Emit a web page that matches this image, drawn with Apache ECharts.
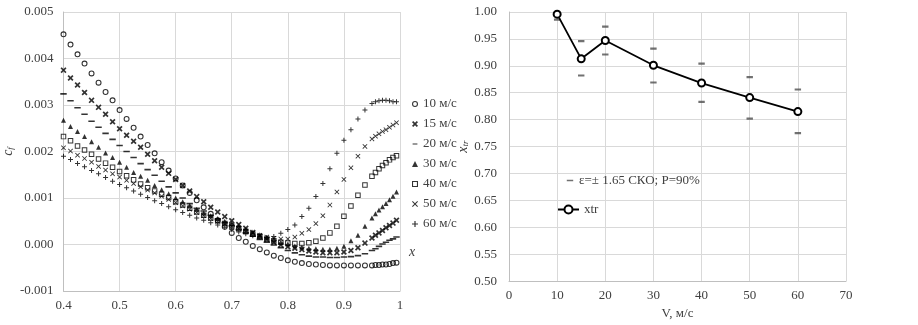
<!DOCTYPE html>
<html>
<head>
<meta charset="utf-8">
<script src="https://cdn.jsdelivr.net/npm/echarts@6/dist/echarts.min.js"></script>
<style>
  html, body { margin: 0; padding: 0; background: #fff; }
  #chart { width: 918px; height: 325px; }
</style>
</head>
<body>
<div id="chart"></div>
<script>
// x positions along the chord (same for every speed)
var xPos = [0.4, 0.4125, 0.425, 0.4375, 0.45, 0.4625, 0.475, 0.4875, 0.5, 0.5125,
  0.525, 0.5375, 0.55, 0.5625, 0.575, 0.5875, 0.6, 0.6125, 0.625, 0.6375,
  0.65, 0.6625, 0.675, 0.6875, 0.7, 0.7125, 0.725, 0.7375, 0.75, 0.7625,
  0.775, 0.7875, 0.8, 0.8125, 0.825, 0.8375, 0.85, 0.8625, 0.875, 0.8875,
  0.9, 0.9125, 0.925, 0.9375, 0.95, 0.95625, 0.9625, 0.96875, 0.975, 0.98125,
  0.9875, 0.99375];

// c_f values for each speed
var cf10 = [0.00452, 0.0043, 0.00409, 0.00389, 0.00368, 0.00348, 0.00328, 0.0031, 0.00289, 0.0027,
  0.00251, 0.00232, 0.00214, 0.00196, 0.00177, 0.00159, 0.00142, 0.00127, 0.00111, 0.00095,
  0.0008, 0.00066, 0.00052, 0.00038, 0.00025, 0.00014, 0.00006, -0.00003, -0.0001, -0.00017,
  -0.00024, -0.00029, -0.00034, -0.00037, -0.0004, -0.00042, -0.00043, -0.00044, -0.00045, -0.00045,
  -0.00045, -0.00045, -0.00045, -0.00045, -0.00045, -0.00044, -0.00044, -0.00043, -0.00043, -0.00042,
  -0.0004, -0.00039];
var cf15 = [0.00375, 0.00358, 0.00343, 0.00327, 0.0031, 0.00295, 0.0028, 0.00264, 0.00249, 0.00235,
  0.00222, 0.00209, 0.00194, 0.0018, 0.00166, 0.00153, 0.0014, 0.00127, 0.00115, 0.00103,
  0.00092, 0.0008, 0.0007, 0.0006, 0.00051, 0.00043, 0.00035, 0.00026, 0.00018, 0.00011,
  0.00005, -0.00001, -0.00005, -0.00008, -0.00011, -0.00014, -0.00016, -0.00018, -0.00018, -0.00018,
  -0.00016, -0.00013, -0.00007, 0.00003, 0.00014, 0.0002, 0.00025, 0.0003, 0.00036, 0.00041,
  0.00046, 0.00052];
var cf20 = [0.00324, 0.00309, 0.00294, 0.0028, 0.00265, 0.00252, 0.00239, 0.00226, 0.00213, 0.002,
  0.00187, 0.00174, 0.00161, 0.00149, 0.00136, 0.00124, 0.00111, 0.001, 0.00088, 0.00078,
  0.00072, 0.00063, 0.00055, 0.00047, 0.0004, 0.00032, 0.00025, 0.00018, 0.00011, 0.00005,
  -0.00001, -0.00007, -0.00013, -0.00018, -0.00022, -0.00025, -0.00027, -0.00027, -0.00028, -0.00028,
  -0.00027, -0.00026, -0.00024, -0.0002, -0.00013, -0.00009, -0.00004, 0.00001, 0.00005, 0.00009,
  0.00012, 0.00016];
var cf30 = [0.00267, 0.00254, 0.00243, 0.00232, 0.00221, 0.00209, 0.00197, 0.00187, 0.00177, 0.00166,
  0.00155, 0.00147, 0.00138, 0.00127, 0.00118, 0.00109, 0.001, 0.00092, 0.00084, 0.00076,
  0.00068, 0.00062, 0.00056, 0.0005, 0.00045, 0.00039, 0.00033, 0.00027, 0.00021, 0.00015,
  0.0001, 0.00005, 0.00001, -0.00003, -0.00006, -0.00008, -0.00009, -0.0001, -0.0001, -0.00008,
  -0.00004, 0.00008, 0.0002, 0.00039, 0.00057, 0.00066, 0.00074, 0.00081, 0.00088, 0.00096,
  0.00104, 0.00113];
var cf40 = [0.00232, 0.00223, 0.00212, 0.00203, 0.00194, 0.00184, 0.00175, 0.00166, 0.00157, 0.00148,
  0.00139, 0.0013, 0.00122, 0.00115, 0.00108, 0.00101, 0.00092, 0.00085, 0.00078, 0.0007,
  0.00063, 0.00057, 0.00051, 0.00045, 0.0004, 0.00034, 0.00028, 0.00022, 0.00017, 0.00012,
  0.00008, 0.00005, 0.00003, 0.00002, 0.00002, 0.00004, 0.00007, 0.00014, 0.00025, 0.00039,
  0.00061, 0.00083, 0.00106, 0.00128, 0.00147, 0.00155, 0.00163, 0.0017, 0.00176, 0.00182,
  0.00187, 0.00191];
var cf50 = [0.00208, 0.00201, 0.00192, 0.00185, 0.00177, 0.00168, 0.0016, 0.00152, 0.00145, 0.00138,
  0.00131, 0.00124, 0.00117, 0.00111, 0.00104, 0.00097, 0.0009, 0.00083, 0.00076, 0.00069,
  0.00062, 0.00056, 0.0005, 0.00044, 0.00039, 0.00034, 0.00029, 0.00024, 0.0002, 0.00016,
  0.00013, 0.00012, 0.00012, 0.00016, 0.00024, 0.00032, 0.00045, 0.00062, 0.00085, 0.00113,
  0.0014, 0.00165, 0.0019, 0.00211, 0.00227, 0.00233, 0.00238, 0.00243, 0.00247, 0.00252,
  0.00257, 0.00262];
var cf60 = [0.0019, 0.00183, 0.00174, 0.00167, 0.00159, 0.00152, 0.00144, 0.00136, 0.00129, 0.00122,
  0.00115, 0.00108, 0.00101, 0.00094, 0.00088, 0.00081, 0.00075, 0.00069, 0.00063, 0.00057,
  0.00052, 0.00047, 0.00042, 0.00037, 0.00032, 0.00027, 0.00023, 0.00019, 0.00016, 0.00015,
  0.00017, 0.00024, 0.00032, 0.00042, 0.0006, 0.00078, 0.00103, 0.00131, 0.00163, 0.00196,
  0.00224, 0.00247, 0.0027, 0.00289, 0.00303, 0.00307, 0.00309, 0.0031, 0.0031, 0.00309,
  0.00307, 0.00307];

var speedNames = ["10 м/с", "15 м/с", "20 м/с", "30 м/с", "40 м/с", "50 м/с", "60 м/с"];

// right chart: transition point vs speed
var speeds = [10, 15, 20, 30, 40, 50, 60];
var xtr = [0.996, 0.913, 0.947, 0.901, 0.868, 0.841, 0.815];
var errSpeeds = [10, 15, 15, 20, 20, 30, 30, 40, 40, 50, 50, 60, 60];
var errValues = [0.986, 0.946, 0.882, 0.973, 0.921, 0.932, 0.869, 0.904, 0.833, 0.879, 0.802, 0.856, 0.775];
var errName = "ε=± 1.65 СКО; P=90%";

var FONT = "'Liberation Serif', 'Times New Roman', serif";
var TXT = "#404040";
var GRID = "#d9d9d9";
var AXIS = "#bfbfbf";

// marker shapes (10x10 box)
var RING = "path://M5,0A5,5 0 1,1 5,10A5,5 0 1,1 5,0ZM5,1.8A3.2,3.2 0 1,0 5,8.2A3.2,3.2 0 1,0 5,1.8Z";
var SQ_RING = "path://M0,0H10V10H0ZM1.8,1.8V8.2H8.2V1.8Z";
var DASH = "path://M0,0L0.01,0L0,0.01ZM1,4H9V6H1ZM10,10L9.99,10L10,9.99Z";
var THIN_X = "path://M0,1.2L1.2,0L5,3.8L8.8,0L10,1.2L6.2,5L10,8.8L8.8,10L5,6.2L1.2,10L0,8.8L3.8,5Z";
var BOLD_X = "path://M0,2L2,0L5,3L8,0L10,2L7,5L10,8L8,10L5,7L2,10L0,8L3,5Z";
var PLUS = "path://M4,0H6V4H10V6H6V10H4V6H0V4H4Z";

function pairs(xs, ys) {
  return xs.map(function (x, i) { return [x, ys[i]]; });
}

var cfSeries = [cf10, cf15, cf20, cf30, cf40, cf50, cf60];
var symbols = [RING, BOLD_X, DASH, "triangle", SQ_RING, THIN_X, PLUS];
var sizes = [6, 6, 8, 5, 5.5, 5, 5];

var series = cfSeries.map(function (arr, k) {
  return {
    name: speedNames[k],
    type: "scatter",
    xAxisIndex: 0,
    yAxisIndex: 0,
    symbol: symbols[k],
    symbolSize: sizes[k],
    itemStyle: { color: "#000" },
    data: pairs(xPos, arr)
  };
});

series.push({
  name: errName,
  type: "scatter",
  xAxisIndex: 1,
  yAxisIndex: 1,
  symbol: DASH,
  symbolSize: [8, 11],
  itemStyle: { color: "#4d4d4d" },
  data: pairs(errSpeeds, errValues)
});
series.push({
  name: "xtr",
  type: "line",
  xAxisIndex: 1,
  yAxisIndex: 1,
  symbol: "emptyCircle",
  symbolSize: 7,
  lineStyle: { color: "#000", width: 1.8 },
  itemStyle: { color: "#000", borderColor: "#000", borderWidth: 1 },
  data: pairs(speeds, xtr)
});

var chart = echarts.init(document.getElementById("chart"), null, { renderer: "canvas" });

var option = {
  animation: false,
  backgroundColor: "#fff",
  textStyle: { fontFamily: FONT },
  grid: [
    { left: 62, right: 518, top: 12, bottom: 34 },
    { left: 509, right: 72, top: 12, bottom: 33 }
  ],
  legend: [
    {
      orient: "vertical",
      left: 412,
      top: 97,
      padding: 0,
      itemWidth: 6,
      itemHeight: 6,
      itemGap: 6,
      textStyle: { fontFamily: FONT, fontSize: 13, color: TXT, lineHeight: 14 },
      data: speedNames
    },
    {
      left: 566,
      top: 174,
      padding: 0,
      itemWidth: 8,
      itemHeight: 11,
      textStyle: { fontFamily: FONT, fontSize: 13, color: TXT },
      data: [errName]
    },
    {
      left: 557,
      top: 203,
      padding: 0,
      itemWidth: 21,
      itemHeight: 10,
      textStyle: { fontFamily: FONT, fontSize: 13, color: TXT },
      data: ["xtr"]
    }
  ],
  xAxis: [
    {
      gridIndex: 0,
      type: "value",
      min: 0.4,
      max: 1,
      interval: 0.1,
      axisLine: { show: true, onZero: false, lineStyle: { color: AXIS } },
      axisTick: { show: false },
      splitLine: { show: true, lineStyle: { color: GRID } },
      axisLabel: {
        color: TXT, fontSize: 13, fontFamily: FONT, margin: 8,
        formatter: function (v) { return v === 1 ? "1" : v.toFixed(1); }
      }
    },
    {
      gridIndex: 1,
      type: "value",
      min: 0,
      max: 70,
      interval: 10,
      name: "V, м/с",
      nameLocation: "middle",
      nameGap: 22,
      nameTextStyle: { color: TXT, fontSize: 13, fontFamily: FONT },
      axisLine: { show: true, onZero: false, lineStyle: { color: AXIS } },
      axisTick: { show: false },
      splitLine: { show: true, lineStyle: { color: GRID } },
      axisLabel: { color: TXT, fontSize: 13, fontFamily: FONT, margin: 8 }
    }
  ],
  yAxis: [
    {
      gridIndex: 0,
      type: "value",
      min: -0.001,
      max: 0.005,
      interval: 0.001,
      name: "{i|c}{s|f}",
      nameLocation: "middle",
      nameRotate: 90,
      nameGap: 48,
      nameTextStyle: {
        color: TXT,
        rich: {
          i: { fontFamily: FONT, fontStyle: "italic", fontSize: 14, color: TXT },
          s: { fontFamily: FONT, fontStyle: "italic", fontSize: 9, color: TXT, padding: [6, 0, 0, 0] }
        }
      },
      axisLine: { show: true, lineStyle: { color: AXIS } },
      axisTick: { show: false },
      splitLine: { show: true, lineStyle: { color: GRID } },
      axisLabel: {
        color: TXT, fontSize: 13, fontFamily: FONT, margin: 10,
        formatter: function (v) { return v.toFixed(3); }
      }
    },
    {
      gridIndex: 1,
      type: "value",
      min: 0.5,
      max: 1,
      interval: 0.05,
      name: "{i|x}{s|tr}",
      nameLocation: "middle",
      nameRotate: 90,
      nameGap: 38,
      nameTextStyle: {
        color: TXT,
        rich: {
          i: { fontFamily: FONT, fontStyle: "italic", fontSize: 14, color: TXT },
          s: { fontFamily: FONT, fontStyle: "italic", fontSize: 9, color: TXT, padding: [6, 0, 0, 0] }
        }
      },
      axisLine: { show: true, lineStyle: { color: AXIS } },
      axisTick: { show: false },
      splitLine: { show: true, lineStyle: { color: GRID } },
      axisLabel: {
        color: TXT, fontSize: 13, fontFamily: FONT, margin: 12,
        formatter: function (v) { return v.toFixed(2); }
      }
    }
  ],
  graphic: [
    {
      type: "text",
      left: 409,
      top: 245,
      style: { text: "x", font: "italic 14px " + FONT, fill: TXT }
    }
  ],
  series: series
};

chart.setOption(option);
</script>
</body>
</html>
